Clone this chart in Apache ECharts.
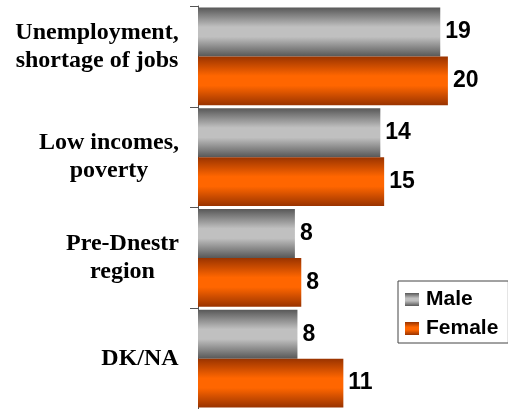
<!DOCTYPE html>
<html>
<head>
<meta charset="utf-8">
<style>
  html, body { margin: 0; padding: 0; background: #fff; }
  #chart { width: 508px; height: 409px; }
</style>
<script src="https://cdn.jsdelivr.net/npm/echarts@6/dist/echarts.min.js"></script>
</head>
<body>
<div id="chart"></div>
<script>
var categories = ["Unemployment,\nshortage of jobs", "Low incomes,\npoverty", "Pre-Dnestr\nregion", "DK/NA"];
var male = [19.0, 14.3, 7.6, 7.8];
var female = [19.6, 14.6, 8.1, 11.4];
var seriesNames = ["Male", "Female"];

var catFont = 'bold 24px "Liberation Serif"';

// width of the widest line of a label, so lines can be centred inside a right-aligned block
function blockWidth(text) {
    var ctx = document.createElement("canvas").getContext("2d");
    ctx.font = catFont;
    var w = 0;
    text.split("\n").forEach(function (s) {
        w = Math.max(w, ctx.measureText(s).width);
    });
    return Math.ceil(w);
}

var rich = {};
categories.forEach(function (c, i) {
    rich["c" + i] = {
        width: blockWidth(c),
        align: "center",
        fontFamily: "Liberation Serif",
        fontWeight: "bold",
        fontSize: 24,
        lineHeight: 28,
        color: "#000"
    };
});

function grad(edge, mid) {
    return new echarts.graphic.LinearGradient(0, 0, 0, 1, [
        { offset: 0, color: edge },
        { offset: 0.4, color: mid },
        { offset: 0.6, color: mid },
        { offset: 1, color: edge }
    ]);
}

var chart = echarts.init(document.getElementById("chart"));

var valueLabel = {
    show: true,
    position: "right",
    distance: 5,
    fontFamily: "Liberation Sans",
    fontWeight: "bold",
    fontSize: 23,
    color: "#000",
    formatter: function (p) { return Math.round(p.value); }
};

chart.setOption({
    animation: false,
    grid: { left: 198, top: 6, width: 306, bottom: 0, containLabel: false },
    legend: {
        orient: "vertical",
        left: 398,
        top: 281,
        padding: [8, 10, 4, 7],
        itemGap: 8,
        itemWidth: 14,
        itemHeight: 13,
        borderColor: "#444",
        borderWidth: 1,
        icon: "rect",
        data: seriesNames,
        textStyle: { fontFamily: "Liberation Sans", fontWeight: "bold", fontSize: 21, lineHeight: 21, color: "#000", padding: [0, 0, 0, 2] }
    },
    xAxis: {
        type: "value",
        min: 0,
        max: 24,
        show: false
    },
    yAxis: {
        type: "category",
        inverse: true,
        data: categories.map(function (c, i) {
            return i === 0 ? { value: c, textStyle: { padding: [0, 0, 19, 0] } } : c;
        }),
        axisLine: { show: true, lineStyle: { color: "#555", width: 1 } },
        axisTick: { show: true, length: 8, lineStyle: { color: "#555" } },
        axisLabel: {
            margin: 19,
            formatter: function (v, i) {
                return v.split("\n").map(function (s) { return "{c" + i + "|" + s + "}"; }).join("\n");
            },
            rich: rich
        }
    },
    series: [
        {
            name: seriesNames[0],
            type: "bar",
            data: male,
            barGap: "0%",
            barCategoryGap: "3%",
            itemStyle: { color: grad("#585858", "#c0c0c0") },
            label: valueLabel
        },
        {
            name: seriesNames[1],
            type: "bar",
            data: female,
            itemStyle: { color: grad("#993300", "#ff6600") },
            label: valueLabel
        }
    ]
});
</script>
</body>
</html>
